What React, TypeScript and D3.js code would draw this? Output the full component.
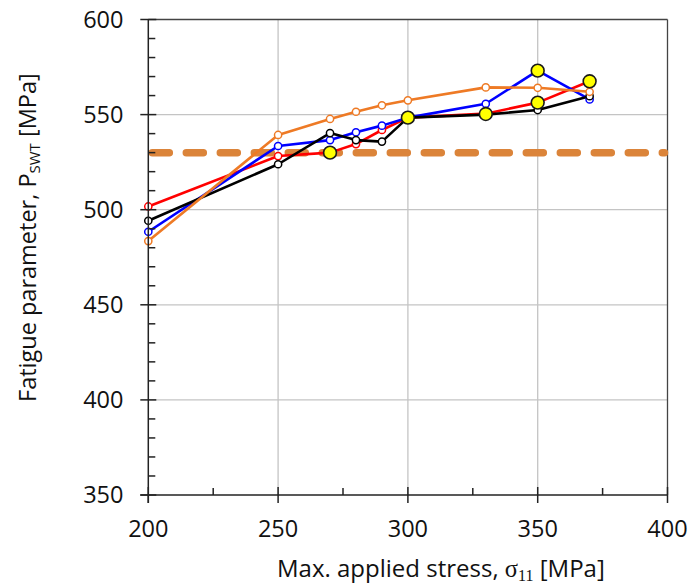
import React from "react";
import * as d3 from "d3";

const stress = [200, 250, 270, 280, 290, 300, 330, 350, 370];
const redVals = [501.7, 528.2, 530.0, 534.5, 541.9, 548.4, 550.5, 556.3, 567.5];
const blueVals = [488.4, 533.5, 536.6, 540.7, 544.2, 548.4, 555.7, 573.1, 558.0];
const blackVals = [494.2, 523.9, 540.3, 536.6, 535.8, 548.4, 550.0, 552.4, 559.7];
const orangeVals = [483.5, 539.3, 547.7, 551.5, 554.9, 557.5, 564.3, 564.1, 562.0];
const highlightX = [270, 300, 330, 350, 350, 370];
const highlightY = [530.0, 548.4, 550.3, 573.1, 556.3, 567.5];
const thresholdValue = 530;
const xTicks = [200, 250, 300, 350, 400];
const yTicks = [350, 400, 450, 500, 550, 600];

const W = 691;
const H = 587;
const left = 148.3;
const right = 667.5;
const top = 19.5;
const bottom = 495;
const FONT = "'Open Sans', 'Noto Sans', sans-serif";
const SERIF = "'Liberation Serif', 'DejaVu Serif', serif";

export default function App() {
  const x = d3.scaleLinear().domain([200, 400]).range([left, right]);
  const y = d3.scaleLinear().domain([350, 600]).range([bottom, top]);

  const series = [
    { vals: redVals, color: "#FF0000" },
    { vals: blueVals, color: "#0000FF" },
    { vals: blackVals, color: "#000000" },
    { vals: orangeVals, color: "#EE7A25" },
  ];

  const line = d3
    .line<[number, number]>()
    .x((d) => x(d[0]))
    .y((d) => y(d[1]));

  const minorY = d3.range(350, 601, 10).filter((v) => v % 50 !== 0);
  const minorX = d3.range(225, 400, 50);

  return (
    <svg
      width={W}
      height={H}
      style={{ position: "absolute", left: 0, top: 0, background: "#fff" }}
      fontFamily={FONT}
    >
      {/* grid */}
      {xTicks.slice(1, -1).map((t) => (
        <line key={"gx" + t} x1={x(t)} x2={x(t)} y1={top} y2={bottom} stroke="#c4c4c4" strokeWidth={1.3} />
      ))}
      {yTicks.slice(1, -1).map((t) => (
        <line key={"gy" + t} x1={left} x2={right} y1={y(t)} y2={y(t)} stroke="#c4c4c4" strokeWidth={1.3} />
      ))}
      {/* frame top & right */}
      <line x1={left} x2={right} y1={top} y2={top} stroke="#444" strokeWidth={1.3} />
      <line x1={right} x2={right} y1={top} y2={bottom} stroke="#444" strokeWidth={1.3} />

      {/* threshold dashed line */}
      <line
        x1={left + 4}
        x2={right - 3}
        y1={y(thresholdValue)}
        y2={y(thresholdValue)}
        stroke="#DB843A"
        strokeWidth={7.5}
        strokeLinecap="round"
        strokeDasharray="17 17"
      />

      {/* series lines */}
      {series.map((s, i) => (
        <path
          key={"l" + i}
          d={line(stress.map((v, j) => [v, s.vals[j]] as [number, number])) || ""}
          fill="none"
          stroke={s.color}
          strokeWidth={2.6}
          strokeLinejoin="round"
        />
      ))}
      {series.map((s, i) => (
        <g key={"m" + i}>
          {stress.map((v, j) => (
            <circle key={j} cx={x(v)} cy={y(s.vals[j])} r={3.6} fill="#fff" stroke={s.color} strokeWidth={1.5} />
          ))}
        </g>
      ))}
      {highlightX.map((v, j) => (
        <circle key={"h" + j} cx={x(v)} cy={y(highlightY[j])} r={6.4} fill="#FFFF00" stroke="#1a1a1a" strokeWidth={1.6} />
      ))}

      {/* axes */}
      <line x1={left} x2={left} y1={top} y2={bottom + 8} stroke="#222" strokeWidth={1.5} />
      <line x1={left - 8} x2={right} y1={bottom} y2={bottom} stroke="#222" strokeWidth={1.5} />
      {yTicks.map((t) => (
        <line key={"ty" + t} x1={left - 8} x2={left + 8} y1={y(t)} y2={y(t)} stroke="#222" strokeWidth={1.5} />
      ))}
      {minorY.map((t) => (
        <line key={"tmy" + t} x1={left} x2={left + 7} y1={y(t)} y2={y(t)} stroke="#222" strokeWidth={1.5} />
      ))}
      {xTicks.map((t) => (
        <line key={"tx" + t} x1={x(t)} x2={x(t)} y1={bottom - 8} y2={bottom + 8} stroke="#222" strokeWidth={1.5} />
      ))}
      {minorX.map((t) => (
        <line key={"tmx" + t} x1={x(t)} x2={x(t)} y1={bottom - 7} y2={bottom} stroke="#222" strokeWidth={1.5} />
      ))}

      {/* tick labels */}
      {yTicks.map((t) => (
        <text key={"ly" + t} x={123.5} y={y(t)} dy="0.36em" textAnchor="end" fontSize={23.5} fill="#111">
          {t}
        </text>
      ))}
      {xTicks.map((t) => (
        <text key={"lx" + t} x={x(t)} y={537} textAnchor="middle" fontSize={23.5} fill="#111">
          {t}
        </text>
      ))}

      {/* axis titles */}
      <text x={277} y={577} fontSize={24} fill="#111">
        Max. applied stress,{" "}
        <tspan fontFamily={SERIF} fontSize={24.5}>σ</tspan>
        <tspan fontFamily={SERIF} fontSize={16} dy={3.5}>11</tspan>
        <tspan dy={-3.5}> [MPa]</tspan>
      </text>
      <text transform="translate(36,402) rotate(-90)" fontSize={23.5} fill="#111">
        Fatigue parameter, P
        <tspan fontSize={15} dy={4}>SWT</tspan>
        <tspan dy={-4}> [MPa]</tspan>
      </text>
    </svg>
  );
}
